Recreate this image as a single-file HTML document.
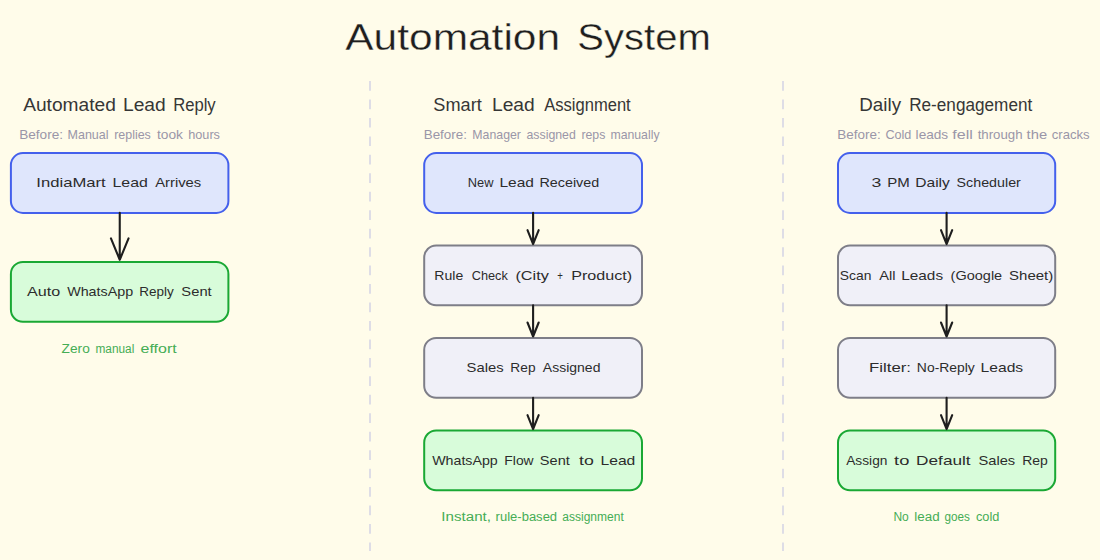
<!DOCTYPE html>
<html><head><meta charset="utf-8"><title>Automation System</title>
<style>
html,body{margin:0;padding:0;background:#fffcea;}
body{width:1100px;height:560px;overflow:hidden;}
svg{display:block;}
text{font-family:"Liberation Sans",sans-serif;}
</style></head><body>
<svg width="1100" height="560" viewBox="0 0 1100 560">
<rect width="1100" height="560" fill="#fffcea"/>
<line x1="370" y1="81" x2="370" y2="551" stroke="#dedde6" stroke-width="2" stroke-dasharray="9.7 8.76"/>
<line x1="783" y1="81" x2="783" y2="551" stroke="#dedde6" stroke-width="2" stroke-dasharray="9.7 8.76"/>
<rect x="10.9" y="153.1" width="217.5" height="59.8" rx="12" fill="#dfe6fc" stroke="#4460ec" stroke-width="2"/>
<rect x="10.9" y="261.9" width="217.5" height="59.8" rx="12" fill="#d8fcda" stroke="#1aa834" stroke-width="2"/>
<rect x="424.2" y="153.1" width="217.8" height="59.8" rx="12" fill="#dfe6fc" stroke="#4460ec" stroke-width="2"/>
<rect x="424.2" y="245.5" width="217.8" height="59.8" rx="12" fill="#f0f0f8" stroke="#7e7e88" stroke-width="2"/>
<rect x="424.2" y="337.9" width="217.8" height="59.8" rx="12" fill="#f0f0f8" stroke="#7e7e88" stroke-width="2"/>
<rect x="424.2" y="430.5" width="217.8" height="59.8" rx="12" fill="#d8fcda" stroke="#1aa834" stroke-width="2"/>
<rect x="838" y="153.1" width="217.2" height="59.8" rx="12" fill="#dfe6fc" stroke="#4460ec" stroke-width="2"/>
<rect x="838" y="245.5" width="217.2" height="59.8" rx="12" fill="#f0f0f8" stroke="#7e7e88" stroke-width="2"/>
<rect x="838" y="337.9" width="217.2" height="59.8" rx="12" fill="#f0f0f8" stroke="#7e7e88" stroke-width="2"/>
<rect x="838" y="430.5" width="217.2" height="59.8" rx="12" fill="#d8fcda" stroke="#1aa834" stroke-width="2"/>
<path d="M119.75 212.9L119.75 259.8M110.95 238.4L119.75 259.8L128.55 238.4" fill="none" stroke="#1e1e1e" stroke-width="2.1" stroke-linecap="round" stroke-linejoin="round"/>
<path d="M533.1 212.9L533.1 244.1M527.5 230.1L533.1 244.1L538.7 230.1" fill="none" stroke="#1e1e1e" stroke-width="2.1" stroke-linecap="round" stroke-linejoin="round"/>
<path d="M533.1 305.3L533.1 336.5M527.5 322.5L533.1 336.5L538.7 322.5" fill="none" stroke="#1e1e1e" stroke-width="2.1" stroke-linecap="round" stroke-linejoin="round"/>
<path d="M533.1 397.7L533.1 429.1M527.5 415.1L533.1 429.1L538.7 415.1" fill="none" stroke="#1e1e1e" stroke-width="2.1" stroke-linecap="round" stroke-linejoin="round"/>
<path d="M946.6 212.9L946.6 244.1M941 230.1L946.6 244.1L952.2 230.1" fill="none" stroke="#1e1e1e" stroke-width="2.1" stroke-linecap="round" stroke-linejoin="round"/>
<path d="M946.6 305.3L946.6 336.5M941 322.5L946.6 336.5L952.2 322.5" fill="none" stroke="#1e1e1e" stroke-width="2.1" stroke-linecap="round" stroke-linejoin="round"/>
<path d="M946.6 397.7L946.6 429.1M941 415.1L946.6 429.1L952.2 415.1" fill="none" stroke="#1e1e1e" stroke-width="2.1" stroke-linecap="round" stroke-linejoin="round"/>
<g font-size="37" fill="#1e1e1e" stroke="#fffcea" stroke-width="0.35"><text x="345.29" y="49.5" textLength="214.81" lengthAdjust="spacingAndGlyphs">Automation</text><text x="577.27" y="49.5" textLength="133.52" lengthAdjust="spacingAndGlyphs">System</text></g>
<g font-size="17.5" fill="#363636"><text x="23.17" y="111.3" textLength="92.66" lengthAdjust="spacingAndGlyphs">Automated</text><text x="122.94" y="111.3" textLength="42.8" lengthAdjust="spacingAndGlyphs">Lead</text><text x="173.13" y="111.3" textLength="42.56" lengthAdjust="spacingAndGlyphs">Reply</text></g>
<g font-size="17.5" fill="#363636"><text x="433.37" y="111.3" textLength="48.41" lengthAdjust="spacingAndGlyphs">Smart</text><text x="491.94" y="111.3" textLength="42.8" lengthAdjust="spacingAndGlyphs">Lead</text><text x="544.17" y="111.3" textLength="86.57" lengthAdjust="spacingAndGlyphs">Assignment</text></g>
<g font-size="17.5" fill="#363636"><text x="859.3" y="111.3" textLength="41.76" lengthAdjust="spacingAndGlyphs">Daily</text><text x="909.18" y="111.3" textLength="123.07" lengthAdjust="spacingAndGlyphs">Re-engagement</text></g>
<g font-size="13" fill="#9a96a8"><text x="19.16" y="138.6" textLength="43.89" lengthAdjust="spacingAndGlyphs">Before:</text><text x="67.52" y="138.6" textLength="41.01" lengthAdjust="spacingAndGlyphs">Manual</text><text x="114.13" y="138.6" textLength="36.69" lengthAdjust="spacingAndGlyphs">replies</text><text x="157.05" y="138.6" textLength="25.93" lengthAdjust="spacingAndGlyphs">took</text><text x="188.2" y="138.6" textLength="31.8" lengthAdjust="spacingAndGlyphs">hours</text></g>
<g font-size="13" fill="#9a96a8"><text x="423.7" y="138.6" textLength="43.28" lengthAdjust="spacingAndGlyphs">Before:</text><text x="472.37" y="138.6" textLength="48.55" lengthAdjust="spacingAndGlyphs">Manager</text><text x="526.54" y="138.6" textLength="49.23" lengthAdjust="spacingAndGlyphs">assigned</text><text x="581.42" y="138.6" textLength="23.94" lengthAdjust="spacingAndGlyphs">reps</text><text x="610.43" y="138.6" textLength="49.12" lengthAdjust="spacingAndGlyphs">manually</text></g>
<g font-size="13" fill="#9a96a8"><text x="837.26" y="138.6" textLength="43.38" lengthAdjust="spacingAndGlyphs">Before:</text><text x="885.4" y="138.6" textLength="26" lengthAdjust="spacingAndGlyphs">Cold</text><text x="915.62" y="138.6" textLength="32.57" lengthAdjust="spacingAndGlyphs">leads</text><text x="952.36" y="138.6" textLength="20.55" lengthAdjust="spacingAndGlyphs">fell</text><text x="977.67" y="138.6" textLength="44.83" lengthAdjust="spacingAndGlyphs">through</text><text x="1026.62" y="138.6" textLength="20.49" lengthAdjust="spacingAndGlyphs">the</text><text x="1051.77" y="138.6" textLength="37.85" lengthAdjust="spacingAndGlyphs">cracks</text></g>
<g font-size="13.5" fill="#2c2c2c"><text x="36.35" y="187.4" textLength="69.37" lengthAdjust="spacingAndGlyphs">IndiaMart</text><text x="112.52" y="187.4" textLength="35.4" lengthAdjust="spacingAndGlyphs">Lead</text><text x="155.16" y="187.4" textLength="46.06" lengthAdjust="spacingAndGlyphs">Arrives</text></g>
<g font-size="13.5" fill="#2c2c2c"><text x="27.09" y="296.2" textLength="33.2" lengthAdjust="spacingAndGlyphs">Auto</text><text x="67.16" y="296.2" textLength="65.98" lengthAdjust="spacingAndGlyphs">WhatsApp</text><text x="139.33" y="296.2" textLength="34.53" lengthAdjust="spacingAndGlyphs">Reply</text><text x="181.39" y="296.2" textLength="30.34" lengthAdjust="spacingAndGlyphs">Sent</text></g>
<g font-size="13.5" fill="#2c2c2c"><text x="467.74" y="187.4" textLength="25.7" lengthAdjust="spacingAndGlyphs">New</text><text x="499.45" y="187.4" textLength="34.45" lengthAdjust="spacingAndGlyphs">Lead</text><text x="539.41" y="187.4" textLength="59.81" lengthAdjust="spacingAndGlyphs">Received</text></g>
<g font-size="13.5" fill="#2c2c2c"><text x="434.36" y="279.6" textLength="28.87" lengthAdjust="spacingAndGlyphs">Rule</text><text x="471.76" y="279.6" textLength="36.1" lengthAdjust="spacingAndGlyphs">Check</text><text x="515.41" y="279.6" textLength="33.4" lengthAdjust="spacingAndGlyphs">(City</text><text x="557.32" y="279.6" textLength="5.65" lengthAdjust="spacingAndGlyphs">+</text><text x="571.19" y="279.6" textLength="60.88" lengthAdjust="spacingAndGlyphs">Product)</text></g>
<g font-size="13.5" fill="#2c2c2c"><text x="466.61" y="372.2" textLength="37.07" lengthAdjust="spacingAndGlyphs">Sales</text><text x="510.39" y="372.2" textLength="25.16" lengthAdjust="spacingAndGlyphs">Rep</text><text x="542.88" y="372.2" textLength="57.55" lengthAdjust="spacingAndGlyphs">Assigned</text></g>
<g font-size="13.5" fill="#2c2c2c"><text x="432.16" y="464.8" textLength="65.61" lengthAdjust="spacingAndGlyphs">WhatsApp</text><text x="504.39" y="464.8" textLength="29.26" lengthAdjust="spacingAndGlyphs">Flow</text><text x="539.85" y="464.8" textLength="29.97" lengthAdjust="spacingAndGlyphs">Sent</text><text x="579.08" y="464.8" textLength="14.78" lengthAdjust="spacingAndGlyphs">to</text><text x="600.53" y="464.8" textLength="34.82" lengthAdjust="spacingAndGlyphs">Lead</text></g>
<g font-size="13.5" fill="#2c2c2c"><text x="871.5" y="187.4" textLength="9.83" lengthAdjust="spacingAndGlyphs">3</text><text x="887.34" y="187.4" textLength="22.46" lengthAdjust="spacingAndGlyphs">PM</text><text x="915.26" y="187.4" textLength="34.63" lengthAdjust="spacingAndGlyphs">Daily</text><text x="956.62" y="187.4" textLength="64.21" lengthAdjust="spacingAndGlyphs">Scheduler</text></g>
<g font-size="13.5" fill="#2c2c2c"><text x="839.87" y="279.6" textLength="31.59" lengthAdjust="spacingAndGlyphs">Scan</text><text x="879.16" y="279.6" textLength="16.27" lengthAdjust="spacingAndGlyphs">All</text><text x="901.27" y="279.6" textLength="41.81" lengthAdjust="spacingAndGlyphs">Leads</text><text x="950.64" y="279.6" textLength="51.56" lengthAdjust="spacingAndGlyphs">(Google</text><text x="1009.04" y="279.6" textLength="44.21" lengthAdjust="spacingAndGlyphs">Sheet)</text></g>
<g font-size="13.5" fill="#2c2c2c"><text x="869.09" y="372.2" textLength="41.93" lengthAdjust="spacingAndGlyphs">Filter:</text><text x="916.86" y="372.2" textLength="57.95" lengthAdjust="spacingAndGlyphs">No-Reply</text><text x="980.64" y="372.2" textLength="42.58" lengthAdjust="spacingAndGlyphs">Leads</text></g>
<g font-size="13.5" fill="#2c2c2c"><text x="846.21" y="464.8" textLength="41.24" lengthAdjust="spacingAndGlyphs">Assign</text><text x="894.07" y="464.8" textLength="15.28" lengthAdjust="spacingAndGlyphs">to</text><text x="916.13" y="464.8" textLength="54.54" lengthAdjust="spacingAndGlyphs">Default</text><text x="978.42" y="464.8" textLength="36.79" lengthAdjust="spacingAndGlyphs">Sales</text><text x="1022.26" y="464.8" textLength="25.65" lengthAdjust="spacingAndGlyphs">Rep</text></g>
<g font-size="12.5" fill="#45ad55"><text x="61.64" y="352.7" textLength="28.12" lengthAdjust="spacingAndGlyphs">Zero</text><text x="95.45" y="352.7" textLength="38.82" lengthAdjust="spacingAndGlyphs">manual</text><text x="140.57" y="352.7" textLength="36.1" lengthAdjust="spacingAndGlyphs">effort</text></g>
<g font-size="12.5" fill="#45ad55"><text x="441.37" y="521.2" textLength="49.67" lengthAdjust="spacingAndGlyphs">Instant,</text><text x="495.63" y="521.2" textLength="61.49" lengthAdjust="spacingAndGlyphs">rule-based</text><text x="562.32" y="521.2" textLength="61.43" lengthAdjust="spacingAndGlyphs">assignment</text></g>
<g font-size="12.5" fill="#45ad55"><text x="893.42" y="521.2" textLength="15.34" lengthAdjust="spacingAndGlyphs">No</text><text x="914.38" y="521.2" textLength="25.34" lengthAdjust="spacingAndGlyphs">lead</text><text x="944.62" y="521.2" textLength="25.35" lengthAdjust="spacingAndGlyphs">goes</text><text x="975.96" y="521.2" textLength="23.42" lengthAdjust="spacingAndGlyphs">cold</text></g>
</svg>
</body></html>
